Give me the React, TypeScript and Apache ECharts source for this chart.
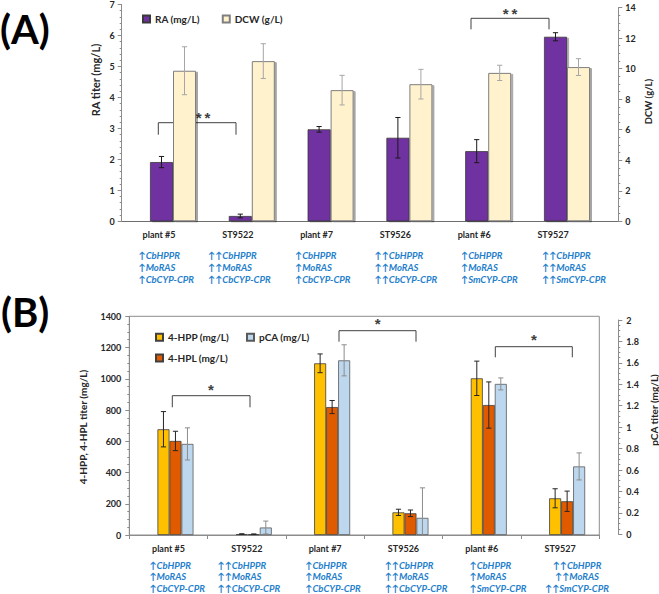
import React, { useEffect, useRef } from "react";
import * as echarts from "echarts";

// ---------- data ----------
const categories = ["plant #5", "ST9522", "plant #7", "ST9526", "plant #6", "ST9527"];
const geneLines = [
  ["↑CbHPPR", "↑MoRAS", "↑CbCYP-CPR"],
  ["↑↑CbHPPR", "↑↑MoRAS", "↑↑CbCYP-CPR"],
  ["↑CbHPPR", "↑MoRAS", "↑CbCYP-CPR"],
  ["↑↑CbHPPR", "↑↑MoRAS", "↑↑CbCYP-CPR"],
  ["↑CbHPPR", "↑MoRAS", "↑SmCYP-CPR"],
  ["↑↑CbHPPR", "↑↑MoRAS", "↑↑SmCYP-CPR"],
];
// panel A
const raTiter = [1.9, 0.17, 2.95, 2.68, 2.25, 5.92];
const raErr = [0.18, 0.06, 0.09, 0.65, 0.37, 0.13];
const dcw = [9.86, 10.49, 8.59, 8.98, 9.72, 10.1];
const dcwErr = [1.57, 1.14, 0.97, 0.97, 0.5, 0.55];
// panel B
const hpp = [677, 6, 1099, 145, 1003, 235];
const hppErr = [113, 2, 60, 20, 110, 61];
const hpl = [602, 5, 819, 139, 832, 216];
const hplErr = [62, 2, 42, 21, 148, 65];
const pca = [0.85, 0.07, 1.63, 0.16, 1.41, 0.64];
const pcaErr = [0.15, 0.06, 0.145, 0.28, 0.056, 0.126];
const spacer = [0, 0, 0, 0, 0, 0];

// axis ranges
const raAxis = { min: 0, max: 7, interval: 1 };
const dcwAxis = { min: 0, max: 14, interval: 2 };
const hpAxis = { min: 0, max: 1400, interval: 200 };
const pcaAxis = { min: 0, max: 2, interval: 0.2 };

// ---------- layout / style ----------
const FONT = "Lato, 'DejaVu Sans', sans-serif";
const STAR_FONT = "'Liberation Sans', Arial, sans-serif";
const TXT = "#262626";
const AXC = "#8c8c8c";
const GENE = "#1f80cc";
const geneXA = [138.5, 208, 295, 374.5, 461, 542];
const geneXB = [149.4, 217.5, 305.3, 384.7, 469.6, 577];
const geneAlignB = ["left", "left", "left", "left", "left", "center"];

const brackets = [
  { x1: 158.3, x2: 236, yt: 122.7, yb: 134.7, sx: 203, sy: 115, t: "*\u2009*" },
  { x1: 471, x2: 549, yt: 18.3, yb: 29.3, sx: 510, sy: 11, t: "*\u2009*" },
  { x1: 172.3, x2: 250, yt: 395.7, yb: 407.3, sx: 211, sy: 387.3, t: "*" },
  { x1: 339, x2: 416, yt: 330.7, yb: 341.7, sx: 377.7, sy: 321.7, t: "*" },
  { x1: 495.3, x2: 572.3, yt: 346.7, yb: 357.3, sx: 534, sy: 337.3, t: "*" },
];

const errRender = (offset: number, cap: number) => (params: any, api: any) => {
  const i = api.value(0);
  const v = api.value(1);
  const e = api.value(2);
  const top = api.coord([i, v + e]);
  const bot = api.coord([i, v - e]);
  const x = top[0] + offset;
  const style = { stroke: api.visual("color"), lineWidth: 1 };
  return {
    type: "group",
    children: [
      { type: "line", shape: { x1: x, y1: top[1], x2: x, y2: bot[1] }, style },
      { type: "line", shape: { x1: x - cap, y1: top[1], x2: x + cap, y2: top[1] }, style },
      { type: "line", shape: { x1: x - cap, y1: bot[1], x2: x + cap, y2: bot[1] }, style },
    ],
  };
};

const errSeries = (
  name: string,
  vals: number[],
  errs: number[],
  xi: number,
  yi: number,
  offset: number,
  color: string
) => ({
  type: "custom",
  name,
  xAxisIndex: xi,
  yAxisIndex: yi,
  clip: true,
  silent: true,
  encode: { x: 0, y: 1 },
  itemStyle: { color },
  data: vals.map((v, i) => [i, v, errs[i]]),
  renderItem: errRender(offset, 2.6),
  z: 5,
});

const labelStyle = { fontFamily: FONT, fontWeight: "bold" as const, fontSize: 9, color: TXT };

const valueAxis = (
  grid: number,
  pos: "left" | "right",
  r: { min: number; max: number; interval: number },
  minorSplit: number,
  margin: number
) => ({
  type: "value",
  gridIndex: grid,
  position: pos,
  min: r.min,
  max: r.max,
  interval: r.interval,
  axisLine: { show: true, lineStyle: { color: AXC, width: 1 } },
  axisTick: { show: true, inside: false, length: 4, lineStyle: { color: AXC } },
  minorTick: { show: true, splitNumber: minorSplit, length: 2, lineStyle: { color: AXC } },
  splitLine: { show: false },
  minorSplitLine: { show: false },
  axisLabel: { ...labelStyle, margin, formatter: (v: number) => String(v) },
});

const hiddenValue = (grid: number, min: number, max: number) => ({
  type: "value",
  gridIndex: grid,
  min,
  max,
  show: false,
  splitLine: { show: false },
});

export default function App() {
  const ref = useRef<HTMLDivElement>(null);

  useEffect(() => {
    document.body.style.margin = "0";
    if (!ref.current) return;
    const chart = echarts.init(ref.current, undefined, { renderer: "svg" });

    const graphics: any[] = [];
    // panel labels
    graphics.push({
      type: "text",
      x: 0,
      y: 29,
      style: { text: "(A)", font: `bold 40px ${FONT}`, fill: "#000", textVerticalAlign: "middle" },
    });
    graphics.push({
      type: "text",
      x: 1,
      y: 311.7,
      style: { text: "(B)", font: `bold 40px ${FONT}`, fill: "#000", textVerticalAlign: "middle" },
    });
    // axis titles
    const axTitle = (text: string, x: number, y: number, size: number) => ({
      type: "text",
      x,
      y,
      rotation: Math.PI / 2,
      style: {
        text,
        font: `bold ${size}px ${FONT}`,
        fill: TXT,
        textAlign: "center",
        textVerticalAlign: "middle",
      },
    });
    graphics.push(axTitle("RA titer (mg/L)", 95, 80, 11));
    graphics.push(axTitle("DCW (g/L)", 648.3, 101.5, 9.5));
    graphics.push(axTitle("4-HPP, 4-HPL titer (mg/L)", 83, 427, 10));
    graphics.push(axTitle("pCA titer (mg/L)", 654, 410, 10));
    // gene annotations
    geneLines.forEach((lines, i) => {
      graphics.push({
        type: "text",
        x: geneXA[i],
        y: 249,
        style: {
          text: lines.join("\n"),
          font: `italic bold 9.5px ${FONT}`,
          lineHeight: 12.2,
          fill: GENE,
          textAlign: "left",
          textVerticalAlign: "top",
        },
      });
      graphics.push({
        type: "text",
        x: geneXB[i],
        y: 559.2,
        style: {
          text: lines.join("\n"),
          font: `italic bold 9.5px ${FONT}`,
          lineHeight: 11.7,
          fill: GENE,
          textAlign: geneAlignB[i],
          textVerticalAlign: "top",
        },
      });
    });
    // significance brackets
    brackets.forEach((b) => {
      graphics.push({
        type: "polyline",
        shape: { points: [[b.x1, b.yb], [b.x1, b.yt], [b.x2, b.yt], [b.x2, b.yb]] },
        style: { stroke: "#404040", lineWidth: 1, fill: "none" },
      });
      graphics.push({
        type: "text",
        x: b.sx,
        y: b.sy + 2,
        style: {
          text: b.t,
          font: `bold 15px ${STAR_FONT}`,
          fill: "#404040",
          textAlign: "center",
          textVerticalAlign: "middle",
        },
      });
    });

    const option: any = {
      animation: false,
      backgroundColor: "#ffffff",
      textStyle: { fontFamily: FONT },
      grid: [
        { left: 121.7, top: 3.1, width: 496.6, height: 218.2 }, // A axes (left + baseline)
        { left: 121.7, top: 7.5, width: 496.6, height: 213.8 }, // A right axis
        { left: 133.6, top: 3.1, width: 472.8, height: 218.2 }, // A bars
        {
          left: 129.3,
          top: 316.3,
          width: 470,
          height: 218.7,
          show: true,
          borderColor: AXC,
          borderWidth: 1,
          backgroundColor: "transparent",
        }, // B bars + left axis
        { left: 129.3, top: 320, width: 489, height: 214.3 }, // B right axis
      ],
      legend: [
        {
          data: ["RA (mg/L)", "DCW (g/L)"],
          left: 137,
          top: 9,
          icon: "rect",
          itemWidth: 7,
          itemHeight: 7,
          itemGap: 22,
          selectedMode: false,
          textStyle: { ...labelStyle, fontSize: 10 },
        },
        {
          data: ["4-HPP (mg/L)", "pCA (mg/L)"],
          left: 150,
          top: 327.3,
          icon: "rect",
          itemWidth: 7,
          itemHeight: 7,
          itemGap: 17,
          selectedMode: false,
          textStyle: { ...labelStyle, fontSize: 10 },
        },
        {
          data: ["4-HPL (mg/L)"],
          left: 150,
          top: 348,
          icon: "rect",
          itemWidth: 7,
          itemHeight: 7,
          selectedMode: false,
          textStyle: { ...labelStyle, fontSize: 10 },
        },
      ],
      xAxis: [
        {
          type: "category",
          gridIndex: 0,
          data: categories,
          axisLine: { show: true, lineStyle: { color: "#6e6e6e" } },
          axisTick: { show: false },
          axisLabel: { show: false },
        },
        { type: "category", gridIndex: 1, data: categories, show: false },
        {
          type: "category",
          gridIndex: 2,
          data: categories,
          axisLine: { show: false },
          axisTick: { show: false },
          axisLabel: {
            interval: 0,
            margin: 8.5,
            formatter: (v: string) => `{c|${v}}`,
            rich: { c: { ...labelStyle, padding: [0, 28, 0, 0] } },
          },
        },
        {
          type: "category",
          gridIndex: 3,
          data: categories,
          axisLine: { show: true, lineStyle: { color: AXC } },
          axisTick: { show: true, length: 4, interval: 0, alignWithLabel: false, lineStyle: { color: AXC } },
          axisLabel: { ...labelStyle, interval: 0, margin: 9 },
        },
        { type: "category", gridIndex: 4, data: categories, show: false },
      ],
      yAxis: [
        valueAxis(0, "left", raAxis, 5, 7),
        valueAxis(1, "right", dcwAxis, 4, 7),
        hiddenValue(2, raAxis.min, raAxis.max),
        hiddenValue(2, 0, 14.29),
        valueAxis(3, "left", hpAxis, 4, 8),
        valueAxis(4, "right", pcaAxis, 4, 8),
        hiddenValue(3, 0, 2.041),
      ],
      series: [
        {
          type: "bar",
          name: "RA (mg/L)",
          xAxisIndex: 2,
          yAxisIndex: 2,
          barWidth: 23,
          barGap: "0%",
          data: raTiter,
          itemStyle: {
            color: "#7030a0",
            borderColor: "#3a3a3a",
            borderWidth: 0.8,
            shadowColor: "rgba(0,0,0,0.35)",
            shadowOffsetX: 2,
            shadowOffsetY: 1,
            shadowBlur: 1,
          },
        },
        {
          type: "bar",
          name: "DCW (g/L)",
          xAxisIndex: 2,
          yAxisIndex: 3,
          barWidth: 23,
          barGap: "0%",
          data: dcw,
          itemStyle: {
            color: "#fff2cc",
            borderColor: "#7f7f7f",
            borderWidth: 1,
            shadowColor: "rgba(0,0,0,0.35)",
            shadowOffsetX: 2,
            shadowOffsetY: 1,
            shadowBlur: 1,
          },
        },
        errSeries("raErr", raTiter, raErr, 2, 2, -11.5, "#1a1a1a"),
        errSeries("dcwErr", dcw, dcwErr, 2, 3, 11.5, "#a6a6a6"),
        {
          type: "bar",
          name: "spacer",
          xAxisIndex: 3,
          yAxisIndex: 4,
          barWidth: 14,
          barGap: "0%",
          silent: true,
          data: spacer,
          itemStyle: { color: "rgba(0,0,0,0)", borderWidth: 0 },
        },
        {
          type: "bar",
          name: "4-HPP (mg/L)",
          xAxisIndex: 3,
          yAxisIndex: 4,
          barWidth: 12,
          barGap: "0%",
          data: hpp,
          itemStyle: { color: "#ffc000", borderColor: "#404040", borderWidth: 0.8 },
        },
        {
          type: "bar",
          name: "4-HPL (mg/L)",
          xAxisIndex: 3,
          yAxisIndex: 4,
          barWidth: 12,
          barGap: "0%",
          data: hpl,
          itemStyle: { color: "#e05a00", borderColor: "#404040", borderWidth: 0.8 },
        },
        {
          type: "bar",
          name: "pCA (mg/L)",
          xAxisIndex: 3,
          yAxisIndex: 6,
          barWidth: 12,
          barGap: "0%",
          data: pca,
          itemStyle: { color: "#bdd7ee", borderColor: "#595959", borderWidth: 0.8 },
        },
        errSeries("hppErr", hpp, hppErr, 3, 4, -5, "#262626"),
        errSeries("hplErr", hpl, hplErr, 3, 4, 7, "#262626"),
        errSeries("pcaErr", pca, pcaErr, 3, 6, 19, "#8c8c8c"),
      ],
      graphic: graphics,
    };

    chart.setOption(option);
    return () => chart.dispose();
  }, []);

  return (
    <div
      ref={ref}
      style={{ position: "fixed", left: 0, top: 0, width: 659, height: 594, background: "#fff" }}
    />
  );
}
